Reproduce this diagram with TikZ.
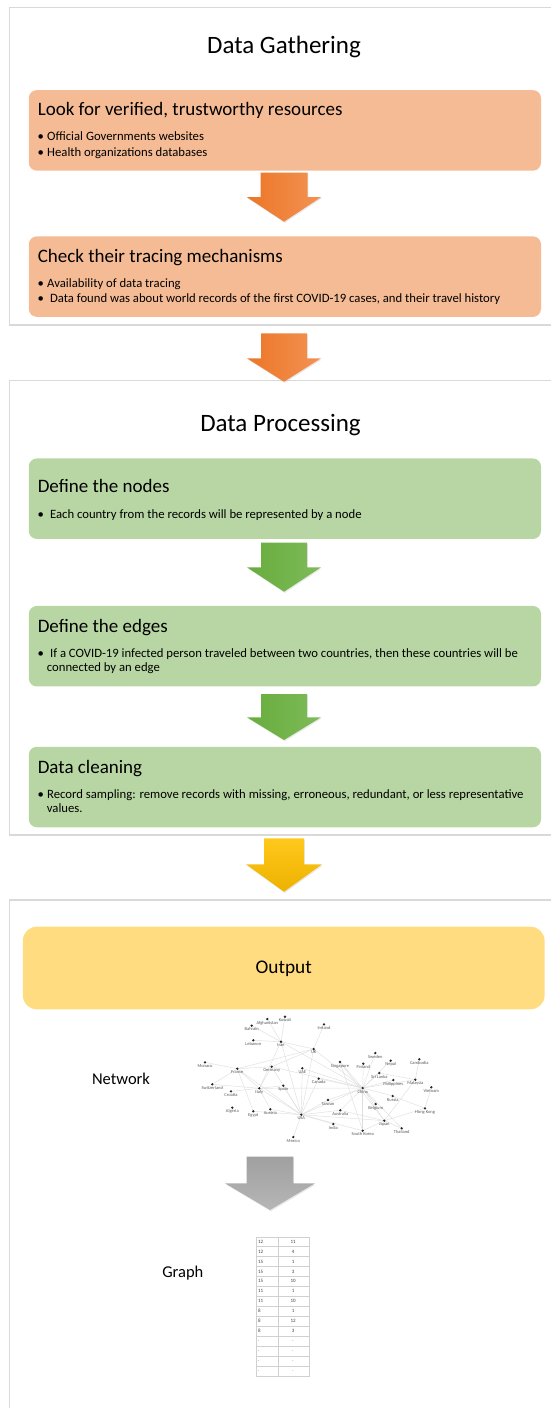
\documentclass[tikz,border=0pt]{standalone}
\usepackage{fontspec}
\setmainfont{Carlito}
\usetikzlibrary{matrix,shadows,backgrounds}

\definecolor{boxorange}{HTML}{F5BB95}
\definecolor{boxgreen}{HTML}{B8D6A3}
\definecolor{boxyellow}{HTML}{FFDC80}
\definecolor{framegray}{HTML}{D9D9D9}
\definecolor{gridgray}{HTML}{D0D0D0}
\definecolor{orangeL}{HTML}{EC7626}
\definecolor{orangeR}{HTML}{F39254}
\definecolor{greenL}{HTML}{68AC3D}
\definecolor{greenR}{HTML}{7EBB58}
\definecolor{yellowT}{HTML}{FFC81C}
\definecolor{yellowB}{HTML}{EDB200}
\definecolor{grayT}{HTML}{A0A0A0}
\definecolor{grayB}{HTML}{B6B6B6}

\newcommand{\bl}[1]{\makebox[9.5pt][l]{\textbullet}#1}

\tikzset{
  pics/blockarrow/.style n args={5}{code={
    \shade[#5] (-#1,0) -- (#1,0) -- (#1,#3) -- (#2,#3) -- (0,#4) -- (-#2,#3) -- (-#1,#3) -- cycle;
  }},
  ashadow/.style={drop shadow={opacity=0.18,shadow xshift=0.8pt,shadow yshift=-1.2pt}},
  orangeshade/.style={left color=orangeL,right color=orangeR,ashadow},
  greenshade/.style={left color=greenL,right color=greenR,ashadow},
  yellowshade/.style={top color=yellowT,bottom color=yellowB,ashadow},
  grayshade/.style={top color=grayT,bottom color=grayB,ashadow},
}

\begin{document}
\begin{tikzpicture}[x=1pt,y=-1pt,
  frame/.style={draw=framegray,line width=1.1pt},
  obox/.style={fill=boxorange,rounded corners=8pt,minimum width=512.2pt,minimum height=80.5pt,inner sep=0pt},
  gbox/.style={obox,fill=boxgreen},
  head/.style={anchor=center,inner sep=0pt,text height=1.05em,text depth=0pt,font=\fontsize{25}{30}\selectfont},
  btitle/.style={anchor=west,inner sep=0pt,text height=1.07em,text depth=0pt,font=\fontsize{19}{23}\selectfont},
  bline/.style={anchor=west,inner sep=0pt,text height=0.9em,text depth=0pt,font=\fontsize{12.7}{15}\selectfont},
  side/.style={anchor=center,inner sep=0pt,text height=1.12em,text depth=0pt,font=\fontsize{16.5}{20}\selectfont},
  cdot/.style={circle,fill=black!85,inner sep=0pt,minimum size=2.6pt,label distance=0.3pt},
  clabel/.style={font=\fontsize{4.5}{5}\selectfont,text=black!65,inner sep=0.3pt},
  cedge/.style={draw=black!13,line width=0.45pt}]

\useasboundingbox (0,0) rectangle (551,1408);

% panels
\begin{scope}
  \clip (0,0) rectangle (551,1408);
  \draw[frame] (9.5,7.3) rectangle (600,325);
  \draw[frame] (9.5,380.7) rectangle (600,835);
  \draw[frame] (9.5,900) rectangle (600,1450);
\end{scope}

% data gathering
\node[head] (gather) at (284,48) {Data Gathering};
\node[obox] (look) at (284.9,130.4) {};
\node[btitle] (lookT) at (37.6,110) {Look for verified, trustworthy resources};
\node[bline] (lookA) at (37.5,136) {\bl{Official Governments websites}};
\node[bline] (lookB) at (37.5,152) {\bl{Health organizations databases}};
\pic at (284,172.7) {blockarrow={23.5}{37}{24.5}{49}{orangeshade}};
\node[obox] (check) at (284.9,276.6) {};
\node[btitle] (checkT) at (37.6,256.7) {Check their tracing mechanisms};
\node[bline] (checkA) at (37.5,282.7) {\bl{Availability of data tracing}};
\node[bline] (checkB) at (37.5,298.3) {\bl{\ Data found was about world records of the first COVID-19 cases, and their travel history}};

\pic at (284,333.3) {blockarrow={23}{37}{25}{48.4}{orangeshade}};

% data processing
\node[head] (process) at (280.5,426.7) {Data Processing};
\node[gbox] (nodes) at (284.9,498.7) {};
\node[btitle] (nodesT) at (37.6,487.3) {Define the nodes};
\node[bline] (nodesA) at (37.5,514) {\bl{\ Each country from the records will be represented by a node}};
\pic at (284,542.7) {blockarrow={23}{37}{24.6}{49}{greenshade}};
\node[gbox] (edges) at (284.9,646.2) {};
\node[btitle] (edgesT) at (37.6,627.3) {Define the edges};
\node[bline] (edgesA) at (37.5,653.3) {\bl{\ If a COVID-19 infected person traveled between two countries, then these countries will be}};
\node[bline] (edgesB) at (46.7,667.3) {connected by an edge};
\pic at (284,694) {blockarrow={23}{37}{23.3}{46}{greenshade}};
\node[gbox] (clean) at (284.9,787) {};
\node[btitle] (cleanT) at (37.6,768.3) {Data cleaning};
\node[bline] (cleanA) at (37.5,794.3) {\bl{Record sampling: remove records with missing, erroneous, redundant, or less representative}};
\node[bline] (cleanB) at (46.7,807.7) {values.};

\pic at (284,838.3) {blockarrow={20}{38}{26}{53.4}{yellowshade}};

% output
\node[fill=boxyellow,rounded corners=14pt,minimum width=521.8pt,minimum height=82.6pt] (out) at (283.7,968) {};
\node[btitle,anchor=center,text height=1.15em,font=\fontsize{19.3}{23}\selectfont] (outT) at (283.7,967.7) {Output};
\node[side] (netT) at (121,1079) {Network};

\foreach \n/\x/\y/\t in {afg/267.3/1019.0/Afghanistan, kuw/285.0/1016.7/Kuwait, bah/251.7/1025.7/Bahrain,
    ire/324.0/1024.3/Ireland, leb/253.3/1040.3/Lebanon, iran/281.0/1041.7/Iran, uk/313.7/1049.0/UK,
    mon/205.0/1062.3/Monaco, fra/237.3/1068.7/France, ger/271.7/1066.7/Germany, uae/302.3/1068.3/UAE,
    sgp/340.0/1062.0/Singapore, swe/375.3/1053.0/Sweden, nep/390.7/1060.7/Nepal, cam/419.3/1059.3/Cambodia,
    fin/363.3/1063.7/Finland, sri/379.3/1073.0/Sri Lanka, phi/393.3/1080.0/Philippines, mal/415.3/1079.7/Malaysia,
    can/318.7/1078.7/Canada, swi/212.3/1084.3/Switzerland, cro/231.0/1091.3/Croatia, ita/259.3/1088.3/Italy,
    spa/283.3/1085.7/Spain, chn/362.7/1088.0/China, vie/431.3/1087.3/Vietnam, rus/392.7/1096.0/Russia,
    twn/328.0/1100.0/Taiwan, bel/375.7/1104.0/Belgium, alg/232.3/1107.7/Algeria, egy/253.3/1111.3/Egypt,
    aut/270.3/1109.3/Austria, aus/340.3/1110.3/Australia, hkg/425.0/1108.3/Hong Kong, usa/301.3/1114.7/USA,
    jpn/384.3/1120.7/Japan, ind/333.3/1124.0/India, tha/401.7/1128.3/Thailand, kor/362.7/1130.7/South Korea,
    mex/293.3/1137.0/Mexico}
  \node[cdot,label={[clabel]below:\t}] (\n) at (\x,\y) {};

\begin{scope}[on background layer]
\foreach \a/\b in {iran/afg, iran/kuw, iran/bah, iran/leb, iran/uk, iran/usa, iran/ita, iran/chn,
    uk/ire, uk/fra, uk/chn, uk/usa, uk/ger, fra/mon, fra/swi, fra/ita, fra/egy, fra/usa, fra/ger,
    ger/ita, ger/usa, ger/chn, ita/swi, ita/spa, ita/aut, ita/usa, ita/chn, ita/cro,
    spa/usa, uae/usa, uae/chn, can/usa, can/chn,
    chn/sgp, chn/fin, chn/swe, chn/sri, chn/nep, chn/mal, chn/phi, chn/rus, chn/bel, chn/jpn,
    chn/kor, chn/twn, chn/aus, chn/usa, mal/cam, mal/sri, mal/jpn, vie/hkg, hkg/rus, hkg/jpn,
    jpn/tha, jpn/usa, jpn/kor, jpn/sgp, jpn/aus, usa/mex, usa/ind, usa/aus, usa/twn, usa/kor,
    usa/aut, usa/egy, kor/sgp, tha/chn}
  \draw[cedge] (\a) -- (\b);
\end{scope}

\pic at (270,1156.7) {blockarrow={23.3}{45}{26.6}{53.3}{grayshade}};

\node[side] (graphT) at (182.8,1271.7) {Graph};
\matrix (tbl) at (282.7,1306.2) [matrix of nodes,
  nodes={draw=gridgray,minimum height=9.93pt,inner sep=0pt,anchor=center,font=\fontsize{5}{6}\selectfont,text=black!75},
  column 1/.style={nodes={minimum width=22pt,text width=18pt,align=left}},
  column 2/.style={nodes={minimum width=31.3pt,align=center}},
  row sep=-\pgflinewidth,column sep=-\pgflinewidth] {
  12 & 11 \\
  12 & 4 \\
  15 & 1 \\
  15 & 3 \\
  15 & 10 \\
  11 & 1 \\
  11 & 10 \\
  8 & 1 \\
  8 & 12 \\
  8 & 3 \\
  . & . \\
  . & . \\
  . & . \\
  . & . \\
};
\end{tikzpicture}
\end{document}
